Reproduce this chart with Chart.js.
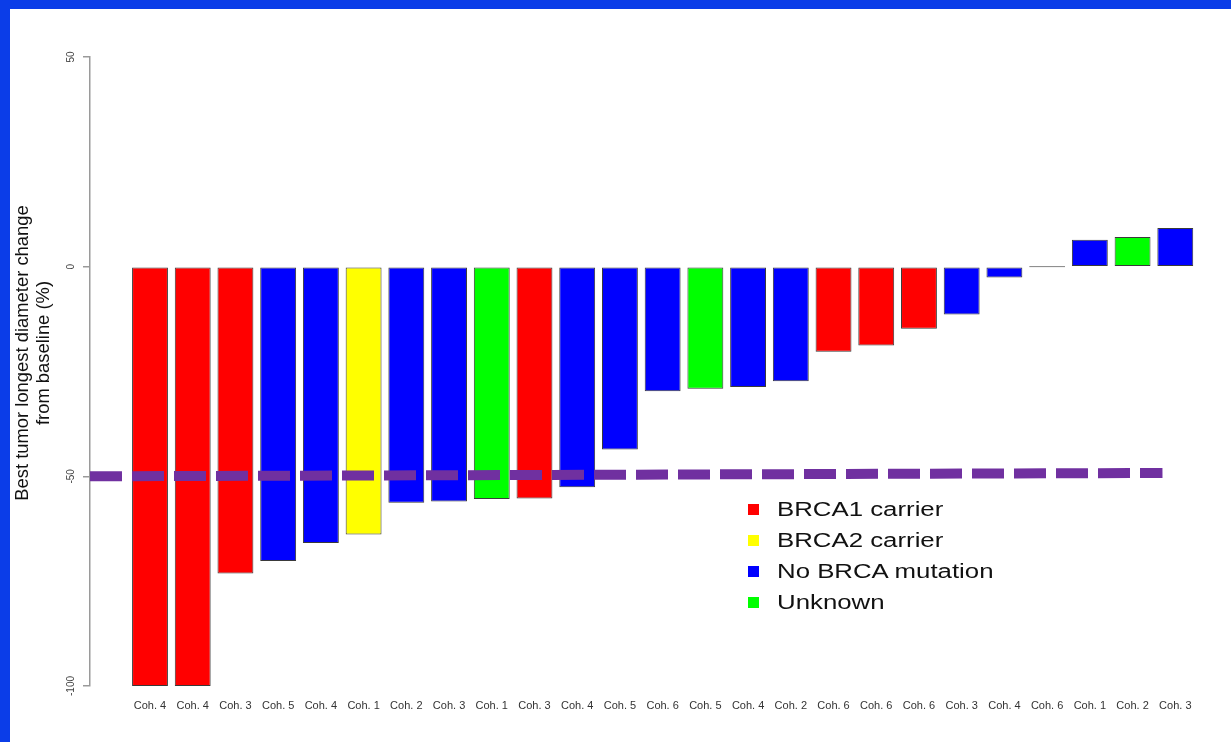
<!DOCTYPE html>
<html>
<head>
<meta charset="utf-8">
<script src="https://cdn.jsdelivr.net/npm/chart.js@4.4.1/dist/chart.umd.min.js"></script>
<style>
  html, body { margin: 0; padding: 0; background: #ffffff; }
  #frame {
    position: absolute; left: 0; top: 0;
    width: 1231px; height: 742px;
    box-sizing: border-box;
    border-top: 9px solid #0b3de8;
    border-left: 10px solid #0b3de8;
    background: #ffffff;
  }
  #frame canvas { display: block; }
  #legend {
    position: absolute; left: 748px; top: 494px;
    font-family: "Liberation Sans", Arial, sans-serif;
    font-size: 20px; color: #111;
  }
  #legend .row { height: 31px; display: flex; align-items: center; }
  #legend .sw { width: 11px; height: 11px; margin-right: 18px; flex: none; }
  #legend .lbl { transform: scaleX(1.29); transform-origin: left center; white-space: nowrap; }
</style>
</head>
<body>
<div id="frame"><canvas id="waterfall" width="1221" height="733"></canvas></div>
<div id="legend"></div>
<script>
// Cohort of each patient, ordered from largest shrinkage to largest growth
const cohorts = ['Coh. 4','Coh. 4','Coh. 3','Coh. 5','Coh. 4','Coh. 1','Coh. 2','Coh. 3','Coh. 1','Coh. 3',
                 'Coh. 4','Coh. 5','Coh. 6','Coh. 5','Coh. 4','Coh. 2','Coh. 6','Coh. 6','Coh. 6','Coh. 3',
                 'Coh. 4','Coh. 6','Coh. 1','Coh. 2','Coh. 3'];

// Best change in longest tumor diameter from baseline (%)
const changes = [-100, -100, -73.2, -70.2, -65.9, -63.9, -56.3, -56.0, -55.4, -55.3,
                 -52.6, -43.6, -29.7, -29.1, -28.7, -27.3, -20.3, -18.8, -14.8, -11.4,
                 -2.6, 0, 6.4, 7.1, 9.2];

// BRCA status of each patient (index into mutationGroups)
const statusIndex = [0, 0, 0, 2, 2, 1, 2, 2, 3, 0,
                     2, 2, 2, 3, 2, 2, 0, 0, 0, 2,
                     2, 2, 2, 3, 2];

const mutationGroups = ['BRCA1 carrier', 'BRCA2 carrier', 'No BRCA mutation', 'Unknown'];
const groupColors = ['#ff0000', '#ffff00', '#0000ff', '#00ff00'];

// -50% response threshold, drawn as a dashed reference line
const thresholdX = [-1.4045, 23.70];
const thresholdY = [-50, -49.2];

const yTickValues = [-100, -50, 0, 50];
const yTitleLines = ['Best tumor longest diameter change', 'from baseline (%)'];

// Rotated two-line title beside the value axis
const yTitlePlugin = {
  id: 'yTitle',
  afterDraw(chart) {
    const ctx = chart.ctx;
    ctx.save();
    ctx.translate(12.7, 344);
    ctx.rotate(-Math.PI / 2);
    ctx.font = '18.4px "Liberation Sans", Arial, sans-serif';
    ctx.fillStyle = '#111111';
    ctx.textAlign = 'center';
    ctx.textBaseline = 'middle';
    yTitleLines.forEach((line, k) => ctx.fillText(line, 0, k * 21));
    ctx.restore();
  }
};

new Chart(document.getElementById('waterfall'), {
  type: 'bar',
  data: {
    datasets: [
      {
        type: 'line',
        data: thresholdX.map((x, i) => ({ x, y: thresholdY[i] })),
        borderColor: '#7030a0',
        borderWidth: 10,
        borderDash: [32, 10],
        borderCapStyle: 'butt',
        pointRadius: 0,
        fill: false,
        order: 1
      },
      {
        type: 'bar',
        data: changes.map((v, i) => ({ x: i, y: v })),
        backgroundColor: statusIndex.map(g => groupColors[g]),
        borderColor: '#3a3a3a',
        borderWidth: 1,
        borderSkipped: false,
        barPercentage: 0.84,
        categoryPercentage: 1,
        minBarLength: 1,
        order: 2
      }
    ]
  },
  options: {
    responsive: false,
    animation: false,
    layout: { padding: { top: 48, right: 10, bottom: 26, left: 0 } },
    plugins: { legend: { display: false }, tooltip: { enabled: false } },
    scales: {
      x: {
        type: 'linear',
        min: -1.4045,
        max: 25.07,
        offset: false,
        afterFit(scale) { scale.height = 30; },
        afterBuildTicks(scale) { scale.ticks = cohorts.map((_, i) => ({ value: i })); },
        grid: { display: false, drawTicks: false },
        border: { display: false },
        ticks: {
          autoSkip: false, minRotation: 0, maxRotation: 0, padding: 13,
          color: '#333333',
          font: { family: '"Liberation Sans", Arial, sans-serif', size: 11 },
          callback: (v) => cohorts[v] !== undefined ? cohorts[v] : ''
        }
      },
      y: {
        min: -100,
        max: 50,
        afterFit(scale) { scale.width = 80; },
        afterBuildTicks(scale) { scale.ticks = yTickValues.map(v => ({ value: v })); },
        border: { display: true, color: '#9a9a9a', width: 1.5 },
        grid: { display: true, drawOnChartArea: false, drawTicks: true, tickLength: 7, color: '#9a9a9a', lineWidth: 1.5 },
        ticks: {
          minRotation: 90, maxRotation: 90, crossAlign: 'center', padding: 2,
          color: '#444444',
          font: { family: '"Liberation Sans", Arial, sans-serif', size: 10 }
        }
      }
    }
  },
  plugins: [yTitlePlugin]
});

// Legend built from the mutation groups
const legendEl = document.getElementById('legend');
mutationGroups.forEach((name, g) => {
  const row = document.createElement('div');
  row.className = 'row';
  const sw = document.createElement('span');
  sw.className = 'sw';
  sw.style.background = groupColors[g];
  const lbl = document.createElement('span');
  lbl.className = 'lbl';
  lbl.textContent = name;
  row.appendChild(sw);
  row.appendChild(lbl);
  legendEl.appendChild(row);
});
</script>
</body>
</html>
